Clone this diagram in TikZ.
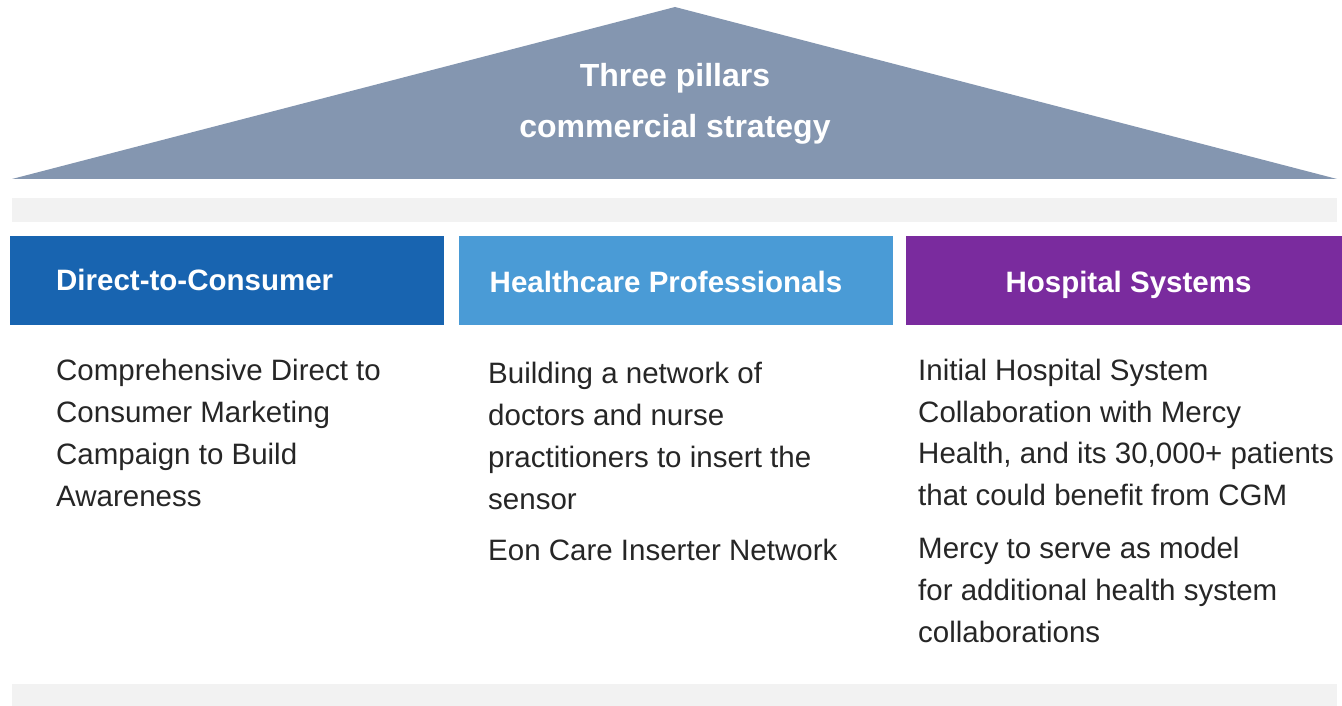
\documentclass[tikz,border=0pt]{standalone}
\usepackage{fontspec}
\setmainfont{Liberation Sans}
\definecolor{roofc}{RGB}{132,150,176}
\definecolor{barc}{RGB}{242,242,242}
\definecolor{dtcc}{RGB}{24,100,176}
\definecolor{hcpc}{RGB}{74,155,214}
\definecolor{hospc}{RGB}{122,43,158}
\definecolor{txtc}{RGB}{38,38,38}
\tikzset{
  hdrbox/.style={minimum width=434pt,minimum height=89pt,inner sep=0pt,anchor=north west},
  hdrtxt/.style={inner sep=0pt,text=white,font=\fontsize{29.5}{34}\selectfont\bfseries},
  bodytxt/.style={anchor=base west,inner sep=0pt,text=txtc,font=\fontsize{29.5}{34}\selectfont},
  titletxt/.style={text=white,font=\fontsize{32}{36}\selectfont\bfseries,inner sep=0pt,anchor=base},
  graybar/.style={fill=barc,draw=none}
}
\begin{document}
\begin{tikzpicture}[x=1pt,y=-1pt]
\useasboundingbox (0,0) rectangle (1342,706);
\fill[white] (0,0) rectangle (1342,706);
% roof
\fill[roofc] (675,7) coordinate (apex) -- (1337,179) -- (12,179) -- cycle;
\node[titletxt] (t1) at (675,87) {Three pillars};
\node[titletxt] (t2) at (675,138) {commercial strategy};
% bars
\fill[graybar] (12,198) rectangle (1337,222);
\fill[graybar] (12,684) rectangle (1337,706);
% headers
\node[hdrbox,fill=dtcc] (h1) at (10,236) {};
\node[hdrtxt,anchor=base west] (h1t) at (56,290) {Direct-to-Consumer};
\node[hdrbox,fill=hcpc] (h2) at (459,236) {};
\node[hdrtxt,anchor=base] (h2t) at (666,292) {Healthcare Professionals};
\node[hdrbox,fill=hospc,minimum width=436pt] (h3) at (906,236) {};
\node[hdrtxt,anchor=base] (h3t) at (1128.5,292) {Hospital Systems};
% column 1
\node[bodytxt] (a1) at (56,380) {Comprehensive Direct to};
\node[bodytxt] (a2) at (56,422) {Consumer Marketing};
\node[bodytxt] (a3) at (56,464) {Campaign to Build};
\node[bodytxt] (a4) at (56,506) {Awareness};
% column 2
\node[bodytxt] (b1) at (488,383) {Building a network of};
\node[bodytxt] (b2) at (488,425) {doctors and nurse};
\node[bodytxt] (b3) at (488,467) {practitioners to insert the};
\node[bodytxt] (b4) at (488,509) {sensor};
\node[bodytxt] (b5) at (488,560) {Eon Care Inserter Network};
% column 3
\node[bodytxt] (c1) at (918,380) {Initial Hospital System};
\node[bodytxt] (c2) at (918,422) {Collaboration with Mercy};
\node[bodytxt] (c3) at (918,463) {Health, and its 30,000+ patients};
\node[bodytxt] (c4) at (918,505) {that could benefit from CGM};
\node[bodytxt] (c5) at (918,558) {Mercy to serve as model};
\node[bodytxt] (c6) at (918,600) {for additional health system};
\node[bodytxt] (c7) at (918,642) {collaborations};
\end{tikzpicture}
\end{document}
